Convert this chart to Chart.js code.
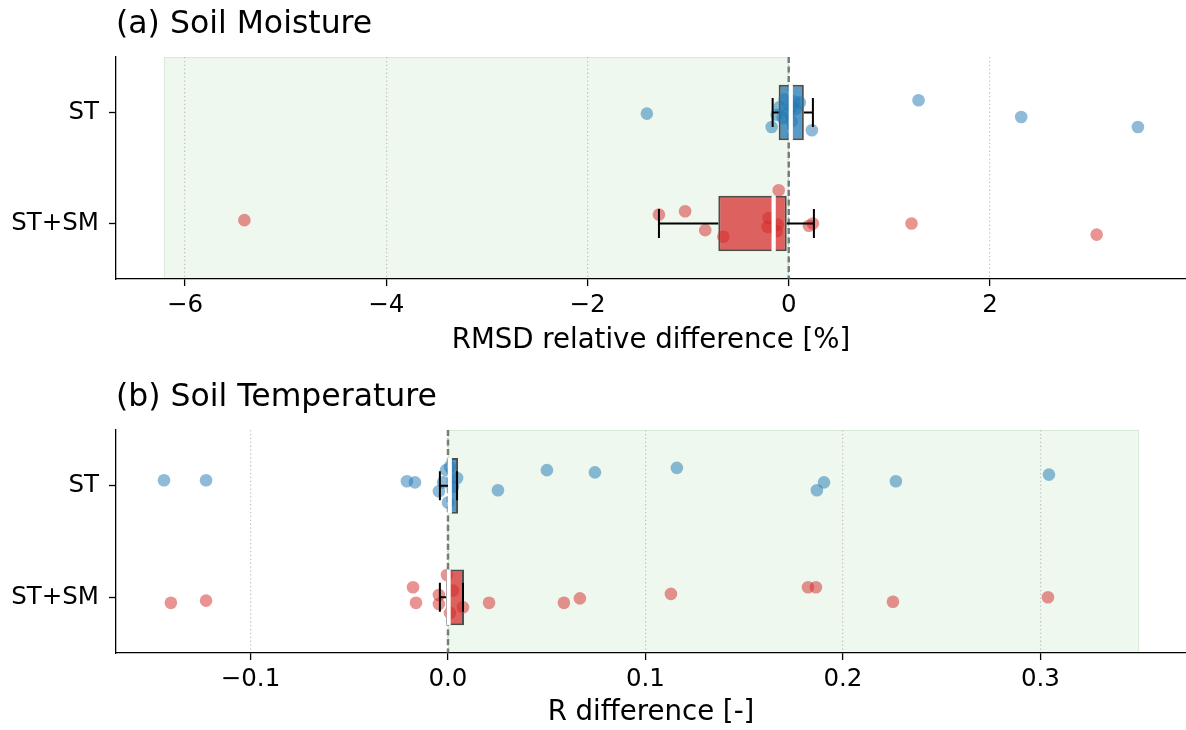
<!DOCTYPE html>
<html><head><meta charset="utf-8">
<script src="https://cdn.jsdelivr.net/npm/chart.js@4/dist/chart.umd.min.js"></script>
<style>html,body{margin:0;padding:0;background:#fff;width:1186px;height:730px;overflow:hidden}canvas{display:block}</style>
</head><body>
<canvas id="c1" width="1186" height="365"></canvas>
<canvas id="c2" width="1186" height="365"></canvas>
<script>
// ---------- shared ----------
const categories = ['ST', 'ST+SM'];
const referenceValue = 0;

// ---------- panel (a) Soil Moisture ----------
const titleA = '(a) Soil Moisture';
const xLabelA = 'RMSD relative difference [%]';
const xTickValuesA = [-6, -4, -2, 0, 2];
const xTickLabelsA = ['\u22126', '\u22124', '\u22122', '0', '2'];
const xRangeA = [-6.686, 3.948];
const improvementSpanA = [-6.21, 0];
const stValuesA  = [-1.41, 1.29, 2.31, 3.47, -0.17, 0.23, -0.09, -0.04, 0.03, 0.11, 0.03, -0.12, 0.07, 0.00, 0.05, -0.06];
const stJitterA  = [0.01, -0.11, 0.04, 0.13, 0.13, 0.16, -0.05, -0.12, -0.05, -0.09, 0.08, 0.02, -0.03, 0.00, -0.10, 0.05];
const stsmValuesA = [-5.41, -1.29, -1.03, -0.83, -0.65, -0.10, -0.20, -0.11, -0.21, -0.12, 0.20, 0.24, 1.22, 3.06];
const stsmJitterA = [-0.03, -0.08, -0.11, 0.06, 0.12, -0.30, -0.05, 0.01, 0.03, 0.07, 0.02, 0.00, 0.00, 0.10];
const boxQ1A = [-0.10, -0.70];
const boxQ3A = [0.15, -0.02];
const medianA = [0.02, -0.15];
const whiskerLoA = [-0.16, -1.29];
const whiskerHiA = [0.24, 0.25];

// ---------- panel (b) Soil Temperature ----------
const titleB = '(b) Soil Temperature';
const xLabelB = 'R difference [-]';
const xTickValuesB = [-0.1, 0.0, 0.1, 0.2, 0.3];
const xTickLabelsB = ['\u22120.1', '0.0', '0.1', '0.2', '0.3'];
const xRangeB = [-0.1681, 0.3737];
const improvementSpanB = [0, 0.35];
const stValuesB  = [-0.1438, -0.1225, -0.0208, -0.0167, 0.0253, 0.0501, 0.0744, 0.1159, 0.1904, 0.1868, 0.2268, 0.3043, -0.0046, -0.0025, 0.0010, 0.0046, 0.0025, 0.0000, -0.0010];
const stJitterB  = [-0.05, -0.05, -0.04, -0.03, 0.04, -0.14, -0.12, -0.16, -0.03, 0.04, -0.04, -0.10, 0.05, -0.03, -0.17, -0.07, 0.01, 0.15, -0.14];
const stsmValuesB = [-0.1403, -0.1225, -0.0177, -0.0162, 0.0208, 0.0587, 0.0668, 0.1129, 0.1823, 0.1863, 0.2253, 0.3038, -0.0046, -0.0046, -0.0005, 0.0076, 0.0010, 0.0025];
const stsmJitterB = [0.05, 0.03, -0.09, 0.05, 0.05, 0.05, 0.01, -0.03, -0.09, -0.09, 0.04, 0.00, -0.02, 0.06, -0.20, 0.09, 0.14, -0.06];
const boxQ1B = [0.0000, -0.0010];
const boxQ3B = [0.0051, 0.0081];
const medianB = [0.0009, 0.0003];
const whiskerLoB = [-0.0041, -0.0041];
const whiskerHiB = [0.0046, 0.0076];

// ---------- styling ----------
const FONT = "'DejaVu Sans'";
Chart.defaults.font.family = FONT;
Chart.defaults.color = '#000';
const seriesFill = ['rgba(31,119,180,0.5)', 'rgba(214,39,40,0.5)'];
const boxFill = ['rgba(31,119,180,0.75)', 'rgba(214,39,40,0.72)'];
const CAP = 0.13, HALF_BOX = 0.25;

const spanPlugin = {
  id: 'improvementSpan',
  beforeDraw(chart, args, opts) {
    const {ctx, chartArea: a, scales: {x}} = chart;
    const x0 = x.getPixelForValue(opts.range[0]);
    const x1 = x.getPixelForValue(opts.range[1]);
    ctx.save();
    ctx.fillStyle = 'rgba(44,160,44,0.08)';
    ctx.fillRect(x0, a.top, x1 - x0, a.bottom - a.top);
    ctx.strokeStyle = 'rgba(44,160,44,0.13)';
    ctx.lineWidth = 1;
    ctx.strokeRect(x0 + 0.5, a.top + 0.5, x1 - x0 - 1, a.bottom - a.top - 1);
    ctx.restore();
  }
};

function scatterPoints(values, jitter, cat) {
  return values.map((v, i) => ({x: v, y: cat + jitter[i]}));
}
function whiskerData(lo, q1, q3, hi) {
  const d = [];
  const gap = {x: null, y: null};
  categories.forEach((c, i) => {
    d.push({x: lo[i], y: i - CAP}, {x: lo[i], y: i + CAP}, gap,
           {x: lo[i], y: i}, {x: q1[i], y: i}, gap,
           {x: q3[i], y: i}, {x: hi[i], y: i}, gap,
           {x: hi[i], y: i - CAP}, {x: hi[i], y: i + CAP}, gap);
  });
  return d;
}
function medianData(med) {
  const d = [];
  categories.forEach((c, i) => {
    d.push({x: med[i], y: i - HALF_BOX}, {x: med[i], y: i + HALF_BOX}, {x: null, y: null});
  });
  return d;
}

function makeChart(id, p) {
  const catIdx = categories.map((c, i) => i);
  return new Chart(document.getElementById(id), {
    type: 'scatter',
    data: {
      datasets: [
        { label: 'whiskers', type: 'scatter', showLine: true, spanGaps: false, pointRadius: 0,
          borderColor: '#000', borderWidth: 2, data: whiskerData(p.lo, p.q1, p.q3, p.hi), order: 1 },
        { label: 'median', type: 'scatter', showLine: true, spanGaps: false, pointRadius: 0,
          borderColor: '#fff', borderWidth: 4.2, borderCapStyle: 'butt', data: medianData(p.med), order: 2 },
        { label: categories[0], type: 'scatter', data: scatterPoints(p.stV, p.stJ, 0),
          pointRadius: 6.3, pointBackgroundColor: seriesFill[0], backgroundColor: seriesFill[0], pointBorderWidth: 0, borderWidth: 0, order: 3 },
        { label: categories[1], type: 'scatter', data: scatterPoints(p.smV, p.smJ, 1),
          pointRadius: 6.3, pointBackgroundColor: seriesFill[1], backgroundColor: seriesFill[1], pointBorderWidth: 0, borderWidth: 0, order: 3 },
        { label: 'box', type: 'bar', indexAxis: 'y',
          data: categories.map((c, i) => ({y: i, x: [p.q1[i], p.q3[i]]})),
          backgroundColor: boxFill, borderColor: 'rgba(35,35,35,0.8)', borderWidth: 2, borderSkipped: false,
          barPercentage: 0.5, categoryPercentage: 1, order: 4 },
        { label: 'reference', type: 'scatter', showLine: true, pointRadius: 0,
          data: [{x: referenceValue, y: -0.5}, {x: referenceValue, y: 1.5}],
          borderColor: 'rgba(85,90,85,0.75)', borderWidth: 2.5, borderDash: [6, 3.5], order: 5 }
      ]
    },
    options: {
      responsive: false, animation: false, events: [],
      layout: {autoPadding: false, padding: {left: 0, right: 0, top: 0, bottom: 0}},
      plugins: {
        legend: {display: false}, tooltip: {enabled: false},
        title: { display: true, text: p.title, align: 'start', fullSize: false, color: '#000',
          font: {family: FONT, size: 31.5, weight: 'normal', lineHeight: 1.2},
          padding: {top: p.titleTop, bottom: 13} },
        improvementSpan: {range: p.span}
      },
      scales: {
        x: {
          type: 'linear', min: p.range[0], max: p.range[1], offset: false, beginAtZero: false,
          afterBuildTicks: s => { s.ticks = p.tickV.map(v => ({value: v})); },
          afterFit: s => { s.height = p.xAxisH; },
          ticks: { callback: (v, i) => p.tickL[i], font: {family: FONT, size: 24.5}, color: '#000',
            padding: 4.8, maxRotation: 0, autoSkip: false },
          grid: { display: true, offset: false, drawOnChartArea: true, drawTicks: true, color: 'rgba(175,175,175,0.75)', lineWidth: 1.2,
            tickLength: 7, tickColor: '#000', tickWidth: 1.3, tickBorderDash: [] },
          border: { display: true, color: '#000', width: 1.3, dash: [1.3, 2.6] },
          title: { display: true, text: p.xLabel, color: '#000', font: {family: FONT, size: 27.6},
            padding: {top: 0, bottom: p.xLabelPad} }
        },
        y: {
          type: 'linear', min: -0.5, max: 1.5, reverse: true, offset: false,
          afterBuildTicks: s => { s.ticks = catIdx.map(v => ({value: v})); },
          afterFit: s => { s.width = 116; },
          ticks: { callback: (v, i) => categories[i], font: {family: FONT, size: 24.5}, color: '#000', padding: 10, autoSkip: false },
          grid: { display: true, offset: false, drawOnChartArea: false, drawTicks: true, tickLength: 7, tickColor: '#000', tickWidth: 1.3 },
          border: { display: true, color: '#000', width: 1.3 }
        }
      }
    },
    plugins: [spanPlugin]
  });
}

makeChart('c1', {
  title: titleA, titleTop: 6.2, xLabel: xLabelA, xLabelPad: 8, xAxisH: 86,
  range: xRangeA, tickV: xTickValuesA, tickL: xTickLabelsA, span: improvementSpanA,
  stV: stValuesA, stJ: stJitterA, smV: stsmValuesA, smJ: stsmJitterA,
  q1: boxQ1A, q3: boxQ3A, med: medianA, lo: whiskerLoA, hi: whiskerHiA
});
makeChart('c2', {
  title: titleB, titleTop: 14.2, xLabel: xLabelB, xLabelPad: 0.5, xAxisH: 77,
  range: xRangeB, tickV: xTickValuesB, tickL: xTickLabelsB, span: improvementSpanB,
  stV: stValuesB, stJ: stJitterB, smV: stsmValuesB, smJ: stsmJitterB,
  q1: boxQ1B, q3: boxQ3B, med: medianB, lo: whiskerLoB, hi: whiskerHiB
});
</script>
</body></html>
